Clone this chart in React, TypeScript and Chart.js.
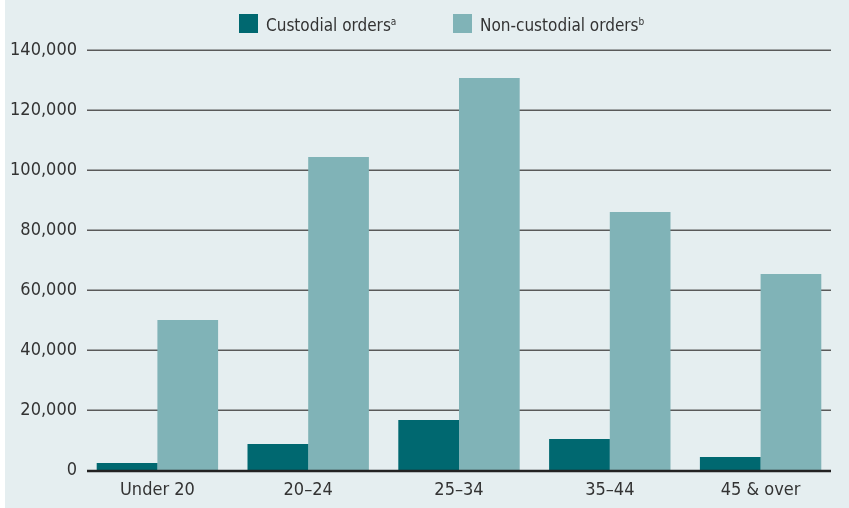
import React, { useEffect, useRef } from "react";
import { Chart, registerables } from "chart.js";

Chart.register(...registerables);

const categories = ["Under 20", "20–24", "25–34", "35–44", "45 & over"];
const custodial = [2300, 8700, 16700, 10300, 4300];
const nonCustodial = [50000, 104300, 130700, 86000, 65300];
const yTicks = [0, 20000, 40000, 60000, 80000, 100000, 120000, 140000];

const FONT = "'Liberation Sans Narrow', 'DejaVu Sans Condensed', 'Arial Narrow', sans-serif";
const BG = "#e5eef0";
const C1 = "#006870";
const C2 = "#80b3b7";
const TEXT = "#333333";
const INSET = 5;

const gridPlugin = {
  id: "insetGrid",
  beforeDatasetsDraw(chart: any) {
    const { ctx, chartArea } = chart;
    const y = chart.scales.y;
    const l = chartArea.left + INSET;
    const r = chartArea.right - INSET;
    ctx.save();
    for (const t of y.ticks) {
      if (t.value === 0) continue;
      const py = Math.round(y.getPixelForValue(t.value)) + 0.25;
      ctx.strokeStyle = "#5a5a5a";
      ctx.lineWidth = 1.5;
      ctx.beginPath();
      ctx.moveTo(l, py);
      ctx.lineTo(r, py);
      ctx.stroke();
    }
    ctx.restore();
  },
  afterDatasetsDraw(chart: any) {
    const { ctx, chartArea } = chart;
    const y = chart.scales.y;
    const py = y.getPixelForValue(0) + 1;
    ctx.save();
    ctx.strokeStyle = "#222222";
    ctx.lineWidth = 2.5;
    ctx.beginPath();
    ctx.moveTo(chartArea.left + INSET, py);
    ctx.lineTo(chartArea.right - INSET, py);
    ctx.stroke();
    ctx.restore();
  },
};

export default function App() {
  const ref = useRef<HTMLCanvasElement | null>(null);

  useEffect(() => {
    document.body.style.margin = "0";
    const ctx = ref.current!;
    const chart = new Chart(ctx, {
      type: "bar",
      data: {
        labels: categories,
        datasets: [
          { label: "Custodial orders", data: custodial, backgroundColor: C1, borderWidth: 0 },
          { label: "Non-custodial orders", data: nonCustodial, backgroundColor: C2, borderWidth: 0 },
        ],
      },
      options: {
        animation: false,
        responsive: false,
        maintainAspectRatio: false,
        layout: { padding: { top: 50, right: 13, left: 0, bottom: 0 } },
        datasets: { bar: { categoryPercentage: 0.805, barPercentage: 1.0 } },
        plugins: { legend: { display: false }, tooltip: { enabled: false } },
        scales: {
          x: {
            grid: { display: false, drawTicks: false },
            border: { display: false },
            ticks: { color: TEXT, font: { family: FONT, size: 18 }, padding: 10 },
            afterFit: (s: any) => { s.height = 38; },
          },
          y: {
            min: 0,
            max: 140000,
            afterBuildTicks: (s: any) => { s.ticks = yTicks.map((v) => ({ value: v })); },
            grid: { display: false, drawTicks: false },
            border: { display: false },
            ticks: {
              color: TEXT,
              font: { family: FONT, size: 18 },
              padding: 5,
              callback: (v: any) => Number(v).toLocaleString("en-US"),
            },
            afterFit: (s: any) => { s.width = 77; },
          },
        },
      },
      plugins: [gridPlugin],
    });
    return () => chart.destroy();
  }, []);

  const legendItem = (color: string, text: string, sup: string, left: number) => (
    <div style={{ position: "absolute", left, top: 14, display: "flex", alignItems: "center", height: 19 }}>
      <div style={{ width: 19, height: 19, background: color, marginRight: 8 }} />
      <span style={{ fontFamily: FONT, fontSize: 17, color: TEXT, lineHeight: "19px", whiteSpace: "nowrap", position: "relative", top: 2 }}>
        {text}
        <sup style={{ fontSize: 10, verticalAlign: "top", lineHeight: "10px", position: "relative", top: 1 }}>{sup}</sup>
      </span>
    </div>
  );

  return (
    <div style={{ position: "relative", width: 849, height: 508, background: "#ffffff" }}>
      <div style={{ position: "absolute", left: 5, top: 0, width: 844, height: 508, background: BG }}>
        <canvas ref={ref} width={844} height={508} style={{ display: "block" }} />
        {legendItem(C1, "Custodial orders", "a", 234)}
        {legendItem(C2, "Non-custodial orders", "b", 448)}
      </div>
    </div>
  );
}
